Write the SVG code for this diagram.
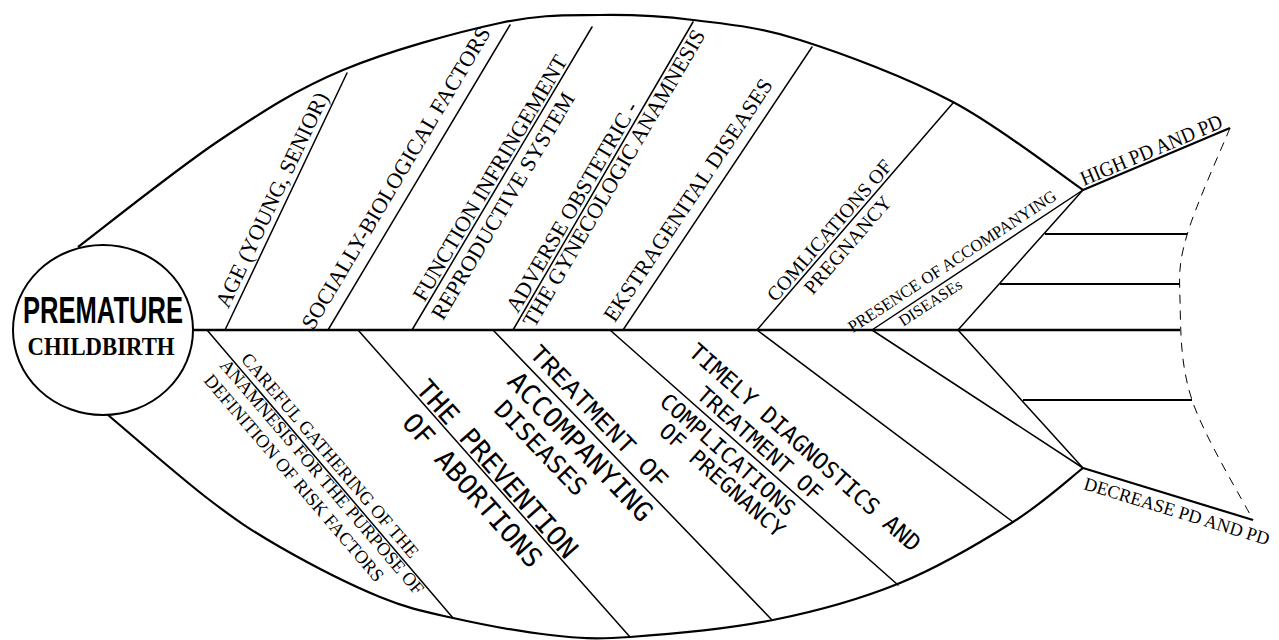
<svg xmlns="http://www.w3.org/2000/svg" width="1279" height="640" viewBox="0 0 1279 640">
<style>
.ln{stroke:#000;stroke-width:1.5;fill:none;stroke-linecap:round}
.bd{stroke:#000;stroke-width:2.2;fill:none}
.dash{stroke:#000;stroke-width:1;fill:none;stroke-dasharray:9 7}
.ser{font-family:"Liberation Serif","Times New Roman",serif;font-size:22px;fill:#000}
.sm{font-size:18.5px}
.mono{font-family:"DejaVu Sans Mono",monospace;fill:#000}
.cmono{font-family:"Liberation Mono","Courier New",monospace;fill:#000}
</style>
<rect width="1279" height="640" fill="#fff"/>
<g id="connectors">
  <path class="bd" d="M78,247 C101.7,229.2 175.8,169.5 220,140 C264.2,110.5 296.3,89.5 343,70 C389.7,50.5 457.2,32.2 500,23 C542.8,13.8 567.8,15.5 600,15 C632.2,14.5 659.7,15.8 693,20 C726.3,24.2 756.7,26.3 800,40 C843.3,53.7 905.8,77 953,102 C1000.2,127 1061.3,175.3 1083,190"/>
  <path class="bd" d="M108,415 C124.5,428.8 178.3,476 207,498 C235.7,520 251.2,530.5 280,547 C308.8,563.5 351.2,585.2 380,597 C408.8,608.8 424.7,611.7 453,618 C481.3,624.3 520.5,631.8 550,635 C579.5,638.2 592.8,639.5 630,637 C667.2,634.5 728,629 773,620 C818,611 860,599.3 900,583 C940,566.7 982.5,541.2 1013,522 C1043.5,502.8 1071.3,477 1083,468"/>
  <path class="dash" d="M1230,128 C1222.8,145.8 1195.3,206.3 1187,235 C1178.7,263.7 1179.2,272.5 1180,300 C1180.8,327.5 1179.8,363.3 1192,400 C1204.2,436.7 1242.8,500 1253,520"/>
  <line class="bd" x1="193" y1="330" x2="1180" y2="330" style="stroke-width:2.6"/>
  <line class="bd" x1="1045" y1="234" x2="1187" y2="234"/>
  <line class="bd" x1="1000" y1="284" x2="1180" y2="284"/>
  <line class="bd" x1="1023" y1="400" x2="1192" y2="400"/>
  <line class="bd" x1="1083" y1="190" x2="1230" y2="128"/>
  <line class="bd" x1="1083" y1="468" x2="1253" y2="520"/>
  <line class="ln" x1="225" y1="330" x2="347" y2="73"/>
  <line class="ln" x1="328" y1="330" x2="510" y2="25"/>
  <line class="ln" x1="412" y1="330" x2="592" y2="27"/>
  <line class="ln" x1="513" y1="330" x2="693" y2="22"/>
  <line class="ln" x1="623" y1="330" x2="812" y2="47"/>
  <line class="ln" x1="757" y1="330" x2="953" y2="103"/>
  <line class="ln" x1="872" y1="330" x2="1083" y2="190"/>
  <line class="ln" x1="958" y1="330" x2="1083" y2="190"/>
  <line class="ln" x1="207" y1="330" x2="453" y2="618"/>
  <line class="ln" x1="358" y1="330" x2="630" y2="637"/>
  <line class="ln" x1="493" y1="330" x2="772" y2="620"/>
  <line class="ln" x1="610" y1="330" x2="898" y2="585"/>
  <line class="ln" x1="757" y1="330" x2="1013" y2="522"/>
  <line class="ln" x1="872" y1="330" x2="1083" y2="468"/>
  <line class="ln" x1="958" y1="330" x2="1083" y2="468"/>
</g>
<g id="head">
  <ellipse cx="103" cy="330" rx="90" ry="85" fill="#fff" stroke="#000" stroke-width="2"/>
  <text x="103" y="323" text-anchor="middle" textLength="160" lengthAdjust="spacingAndGlyphs" style="font-family:'Liberation Sans',Arial,sans-serif;font-weight:bold;font-size:36px">PREMATURE</text>
  <text x="101" y="355" text-anchor="middle" textLength="147" lengthAdjust="spacingAndGlyphs" style="font-family:'Liberation Serif','Times New Roman',serif;font-weight:bold;font-size:26px">CHILDBIRTH</text>
</g>
<g id="age"><text class="ser" text-anchor="middle" transform="translate(278.6,203.1) rotate(-64.6)">AGE (YOUNG, SENIOR)</text></g>
<g id="socially"><text class="ser" text-anchor="middle" transform="translate(402.3,181.7) rotate(-59.2)">SOCIALLY-BIOLOGICAL FACTORS</text></g>
<g id="function">
  <text class="ser" text-anchor="middle" transform="translate(496.3,181.7) rotate(-59.3)">FUNCTION INFRINGEMENT</text>
  <text class="ser" text-anchor="middle" transform="translate(509.3,209.7) rotate(-59.3)">REPRODUCTIVE SYSTEM</text>
</g>
<g id="adverse">
  <text class="ser" text-anchor="middle" transform="translate(578.3,210.7) rotate(-59.7)">ADVERSE OBSTETRIC -</text>
  <text class="ser" text-anchor="middle" transform="translate(620.3,181.7) rotate(-59.7)">THE GYNECOLOGIC ANAMNESIS</text>
</g>
<g id="ekstragenital"><text class="ser" text-anchor="middle" transform="translate(694.1,204.1) rotate(-56.3)">EKSTRAGENITAL DISEASES</text></g>
<g id="complications">
  <text class="ser" text-anchor="middle" style="font-size:20px" transform="translate(834.5,234.8) rotate(-49.2)">COMLICATIONS OF</text>
  <text class="ser" text-anchor="middle" style="font-size:20px" transform="translate(852.7,249.3) rotate(-49.2)">PREGNANCY</text>
</g>
<g id="presence">
  <text class="ser" text-anchor="middle" style="font-size:17px" textLength="245" lengthAdjust="spacingAndGlyphs" transform="translate(955.3,266) rotate(-33.2)">PRESENCE OF ACCOMPANYING</text>
  <text class="ser" text-anchor="middle" style="font-size:16px" transform="translate(933.3,307) rotate(-33.2)">DISEASEs</text>
</g>
<g id="high"><text class="ser" text-anchor="middle" style="font-size:21px" textLength="152" lengthAdjust="spacingAndGlyphs" transform="translate(1154,156.5) rotate(-22.9)">HIGH PD AND PD</text></g>
<g id="decrease"><text class="ser" text-anchor="middle" style="font-size:18.5px" textLength="193" lengthAdjust="spacingAndGlyphs" transform="translate(1175.1,517.2) rotate(17)">DECREASE PD AND PD</text></g>
<g id="careful">
  <text class="ser sm" text-anchor="middle" transform="translate(325.4,459.4) rotate(49.5)">CAREFUL GATHERING OF THE</text>
  <text class="ser sm" text-anchor="middle" transform="translate(317.4,480.9) rotate(49.5)">ANAMNESIS FOR THE PURPOSE OF</text>
  <text class="ser sm" text-anchor="middle" transform="translate(289.4,481.9) rotate(49.5)">DEFINITION OF RISK FACTORS</text>
</g>
<g id="prevention">
  <text class="mono" text-anchor="middle" style="font-size:27px" transform="translate(490,475.1) rotate(48.5)">THE PREVENTION</text>
  <text class="mono" text-anchor="middle" style="font-size:27px" transform="translate(465.5,496.6) rotate(48.5)">OF ABORTIONS</text>
</g>
<g id="treatment">
  <text class="cmono" text-anchor="middle" style="font-size:26px" transform="translate(593.1,422.2) rotate(46.1)">TREATMENT OF</text>
  <text class="mono" text-anchor="middle" style="font-size:27px" transform="translate(573.7,453.1) rotate(46.1)">ACCOMPANYING</text>
  <text class="mono" text-anchor="middle" style="font-size:25px" transform="translate(534.5,454.2) rotate(46.1)">DISEASES</text>
</g>
<g id="timely">
  <text class="mono" text-anchor="middle" style="font-size:23px" textLength="300" transform="translate(799.7,453.5) rotate(41.5)">TIMELY DIAGNOSTICS AND</text>
  <text class="mono" text-anchor="middle" style="font-size:22px" transform="translate(754.7,449.5) rotate(41.5)">TREATMENT OF</text>
  <text class="mono" text-anchor="middle" style="font-size:22px" transform="translate(722.7,460.5) rotate(41.5)">COMPLICATIONS</text>
  <text class="mono" text-anchor="middle" style="font-size:22px" transform="translate(717.2,486) rotate(41.5)">OF PREGNANCY</text>
</g>
</svg>
